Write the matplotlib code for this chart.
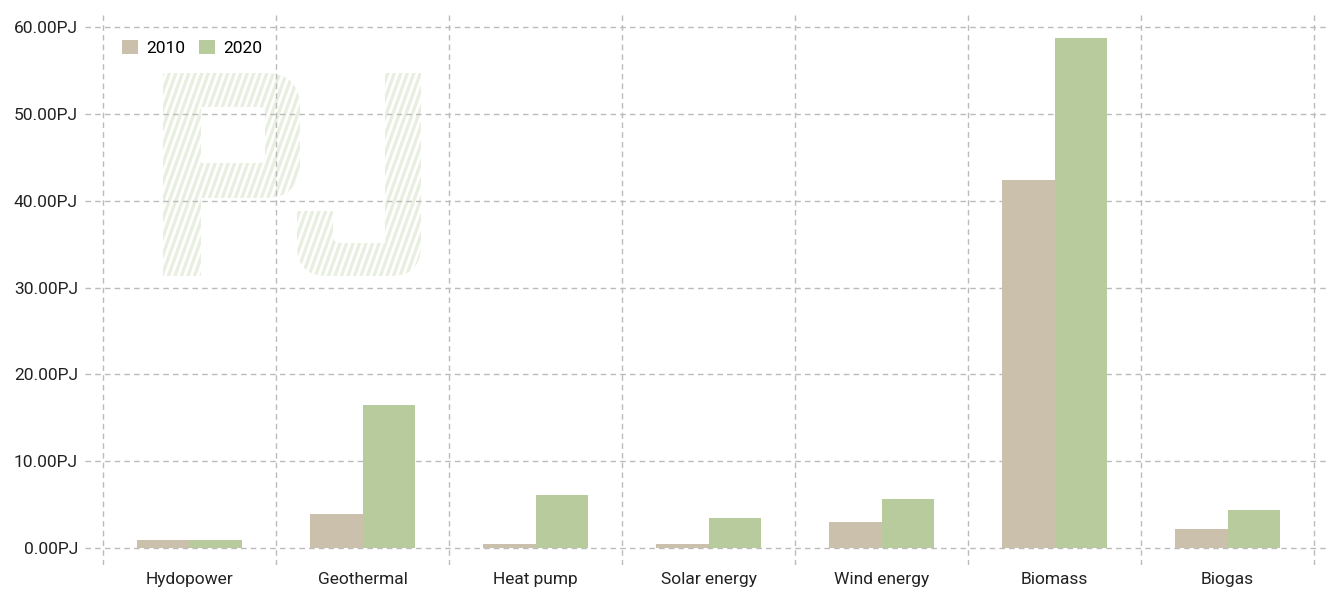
import matplotlib
matplotlib.use('Agg')
import matplotlib.pyplot as plt
import numpy as np
from matplotlib.path import Path
from matplotlib.patches import PathPatch
from matplotlib.transforms import Affine2D, IdentityTransform
from matplotlib.collections import LineCollection
from matplotlib.ticker import FixedLocator, FuncFormatter

categories = ['Hydopower', 'Geothermal', 'Heat pump', 'Solar energy',
              'Wind energy', 'Biomass', 'Biogas']
years = ['2010', '2020']
values_2010 = [0.9, 3.9, 0.5, 0.5, 3.0, 42.4, 2.2]
values_2020 = [0.9, 16.5, 6.1, 3.5, 5.6, 58.7, 4.4]
yticks = [0, 10, 20, 30, 40, 50, 60]

colors = ['#cbc0ac', '#b8cb9c']

plt.rcParams['font.family'] = ['Roboto', 'DejaVu Sans']

W, H = 1326, 590
fig = plt.figure(figsize=(W / 100, H / 100), dpi=100)
ax = fig.add_axes([85 / W, 25 / H, (W - 85) / W, 553 / H])

x = np.arange(len(categories))
bw = 0.306
ax.bar(x - bw / 2, values_2010, bw, color=colors[0], label=years[0], zorder=2)
ax.bar(x + bw / 2, values_2020, bw, color=colors[1], label=years[1], zorder=2)

ax.set_xlim(-0.604, 6.569)
ax.set_ylim(-1.96, 61.73)

ax.set_xticks(x)
ax.set_xticklabels(categories)
ax.xaxis.set_minor_locator(FixedLocator(np.arange(-0.5, len(categories), 1)))
ax.set_yticks(yticks)
ax.yaxis.set_major_formatter(FuncFormatter(lambda v, p: '{:.2f}PJ'.format(v)))

ax.tick_params(axis='both', which='both', length=0, labelsize=12.5,
               colors='#222222')
ax.tick_params(axis='x', pad=5)
ax.tick_params(axis='y', pad=5)

ax.grid(axis='y', which='major', color='#bbbbbb', linestyle=(0, (4, 3)),
        linewidth=1)
ax.grid(axis='x', which='minor', color='#bbbbbb', linestyle=(0, (4, 3)),
        linewidth=1)
ax.set_axisbelow(True)
for s in ax.spines.values():
    s.set_visible(False)

ax.legend(loc='upper left', bbox_to_anchor=(0.0172, 0.978), ncol=2,
          frameon=False, fontsize=12.5, handlelength=0.9,
          handleheight=0.9, handletextpad=0.5, columnspacing=0.8)

# striped "PJ" watermark, drawn in image pixels (y down)
flip = Affine2D().scale(1, -1).translate(0, H) + IdentityTransform()
M, L, C, Z = Path.MOVETO, Path.LINETO, Path.CURVE3, Path.CLOSEPOLY
p_shape = Path([(163, 276), (163, 73), (265, 73), (300, 73), (300, 108),
                (300, 163), (300, 198), (265, 198), (201, 198), (201, 276),
                (163, 276)],
               [M, L, L, C, C, L, C, C, L, L, Z])
p_hole = Path([(201, 107), (259, 107), (265, 107), (265, 113), (265, 157),
               (265, 163), (259, 163), (201, 163), (201, 107)],
              [M, L, C, C, L, C, C, L, Z])
j_shape = Path([(385, 73), (421, 73), (421, 246), (421, 276), (391, 276),
                (327, 276), (297, 276), (297, 246), (297, 211), (333, 211),
                (333, 236), (333, 243), (340, 243), (385, 243), (385, 73)],
               [M, L, L, C, C, L, C, C, L, L, L, C, C, L, Z])

stripe_color = '#e9efe0'
slope = 2.8
for shape, x0, x1 in [(p_shape, 163, 300), (j_shape, 297, 421)]:
    clip = PathPatch(shape, transform=flip, facecolor='none',
                     edgecolor='none')
    ax.add_artist(clip)
    segs = []
    for xs in np.arange(x0 - 100, x1 + 10, 6.5):
        segs.append([(xs, 280), (xs + 210 / slope, 70)])
    lc = LineCollection(segs, colors=stripe_color, linewidths=2.4,
                        transform=flip, zorder=0.2)
    ax.add_artist(lc)
    lc.set_clip_path(clip)
hole = PathPatch(p_hole, transform=flip, facecolor='white',
                 edgecolor='none', zorder=0.3)
ax.add_artist(hole)

fig.savefig('out.png', dpi=100)
